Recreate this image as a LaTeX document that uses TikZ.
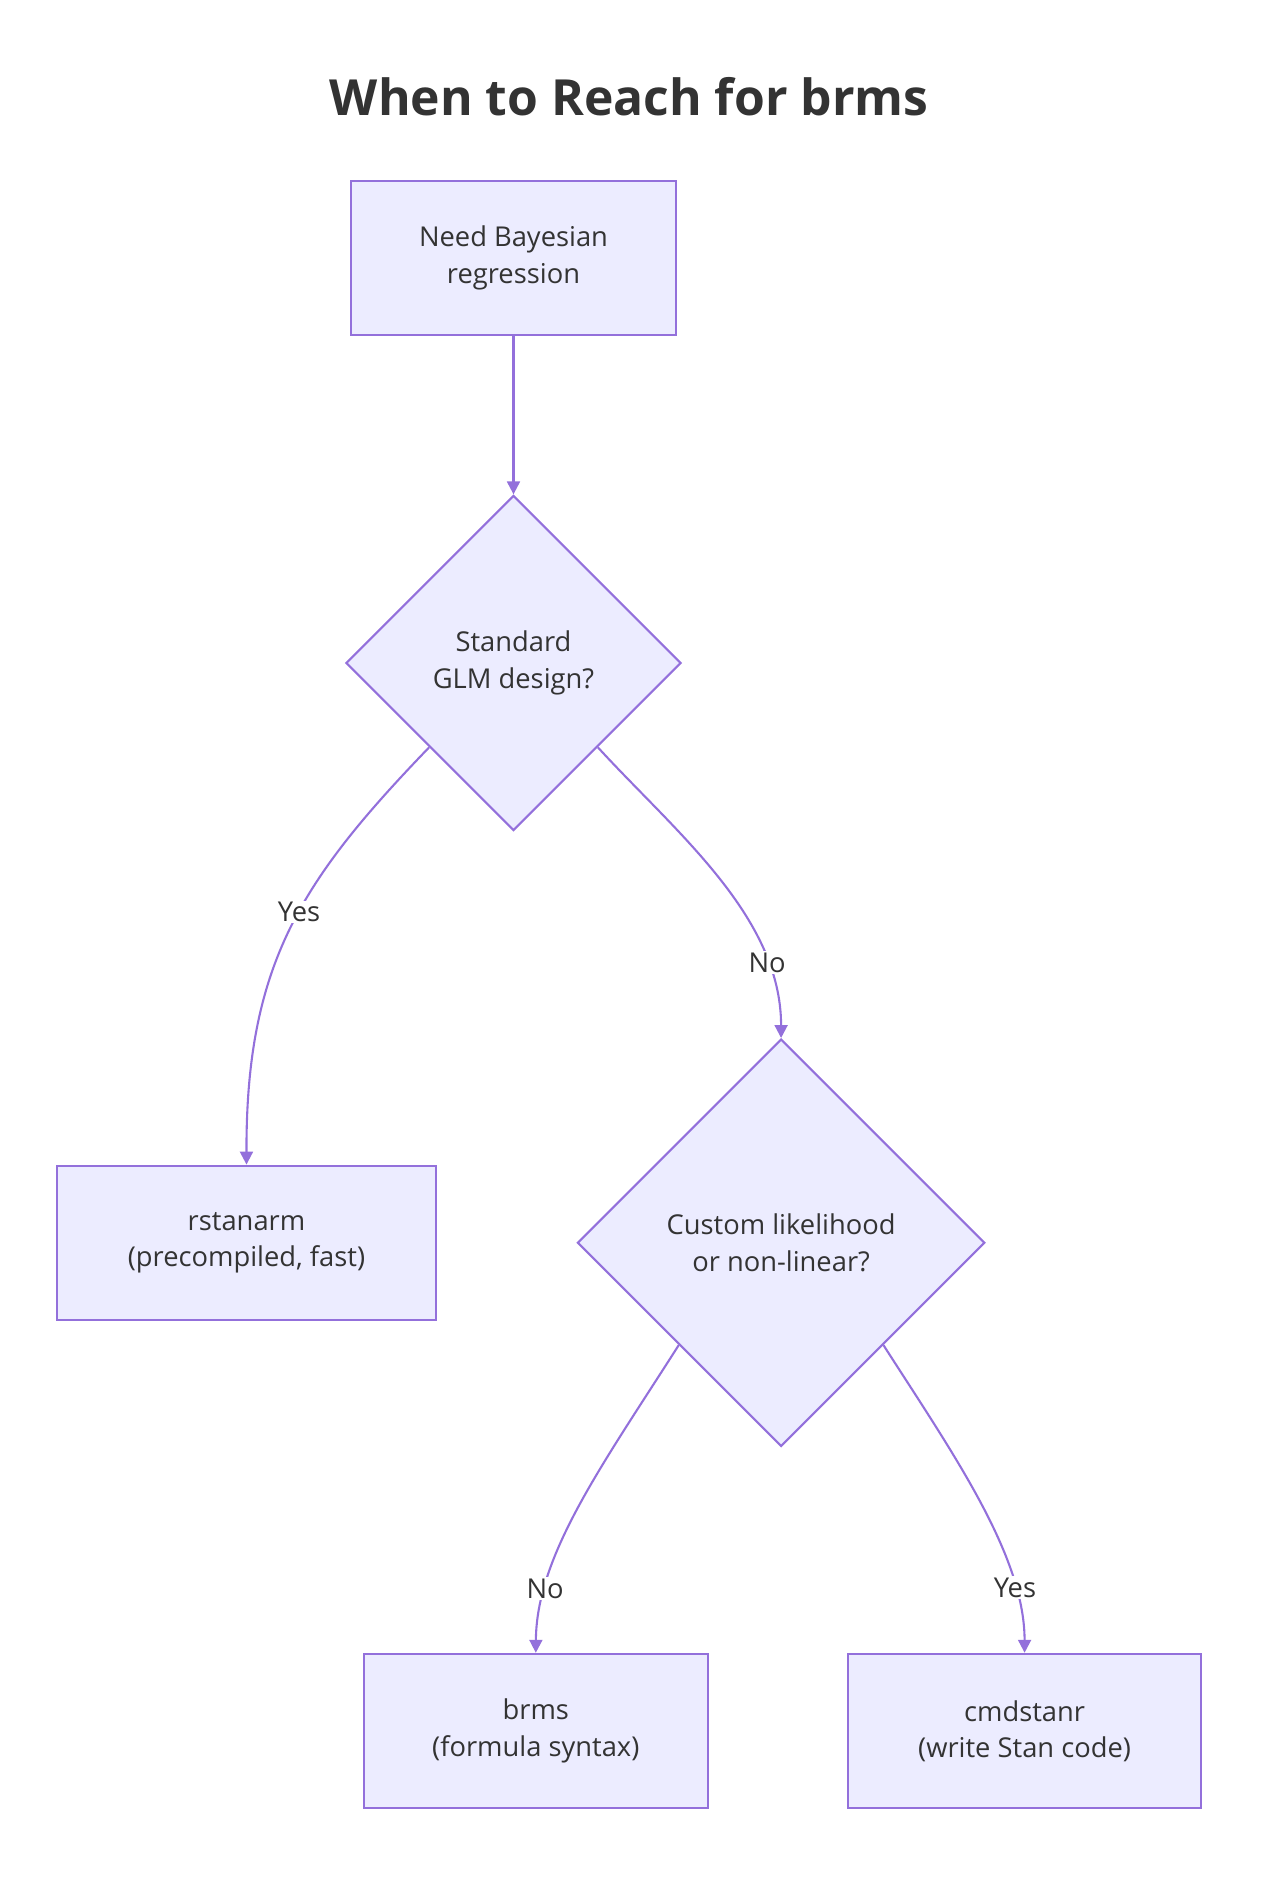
\documentclass[tikz,border=0pt]{standalone}
\usepackage{fontspec}
\setmainfont{Open Sans}
\usetikzlibrary{shapes.geometric,arrows.meta}
\definecolor{boxfill}{HTML}{ECECFF}
\definecolor{boxline}{HTML}{9370DB}
\definecolor{ink}{HTML}{333333}
\tikzset{
  box/.style={draw=boxline,fill=boxfill,line width=1.3pt,minimum height=96pt,align=center,text=ink,font=\fontsize{17}{22.5}\selectfont},
  dec/.style={draw=boxline,fill=boxfill,line width=1.3pt,diamond,aspect=1,inner sep=0pt,align=center,text=ink,font=\fontsize{17}{22.5}\selectfont},
  flow/.style={draw=boxline,line width=1.3pt,-{Triangle[length=8pt,width=8pt]}},
  lbl/.style={fill=white,text=ink,inner sep=1pt,font=\fontsize{17}{20}\selectfont}
}
\begin{document}
\begin{tikzpicture}[x=0.75pt,y=-0.75pt]
\useasboundingbox (0,0) rectangle (1050,1558);

\node[text=ink,font=\bfseries\fontsize{31}{36}\selectfont] (title) at (522,80) {When to Reach for brms};

\node[box,minimum width=202pt] (need) at (426,214) {Need Bayesian\\regression};
\node[dec,minimum size=208.5pt] (glm) at (426,550) {Standard\\GLM design?};
\node[box,minimum width=236pt] (rstan) at (204.5,1031) {rstanarm\\(precompiled, fast)};
\node[dec,minimum size=253.5pt] (cust) at (648,1031) {Custom likelihood\\or non-linear?};
\node[box,minimum width=214pt] (brms) at (444.5,1436) {brms\\(formula syntax)};
\node[box,minimum width=220pt] (cmd) at (850,1436) {cmdstanr\\(write Stan code)};

\draw[flow] (need) -- (glm);
\draw[flow] (glm.south west) .. controls (250,730) and (204,800) .. node[lbl,pos=0.45] {Yes} (rstan.north);
\draw[flow] (glm.south east) .. controls (560,690) and (648,760) .. node[lbl,pos=0.78] {No} (cust.north);
\draw[flow] (cust.south west) .. controls (500,1215) and (445,1290) .. node[lbl,pos=0.78] {No} (brms.north);
\draw[flow] (cust.south east) .. controls (790,1205) and (850,1290) .. node[lbl,pos=0.78] {Yes} (cmd.north);
\end{tikzpicture}
\end{document}
